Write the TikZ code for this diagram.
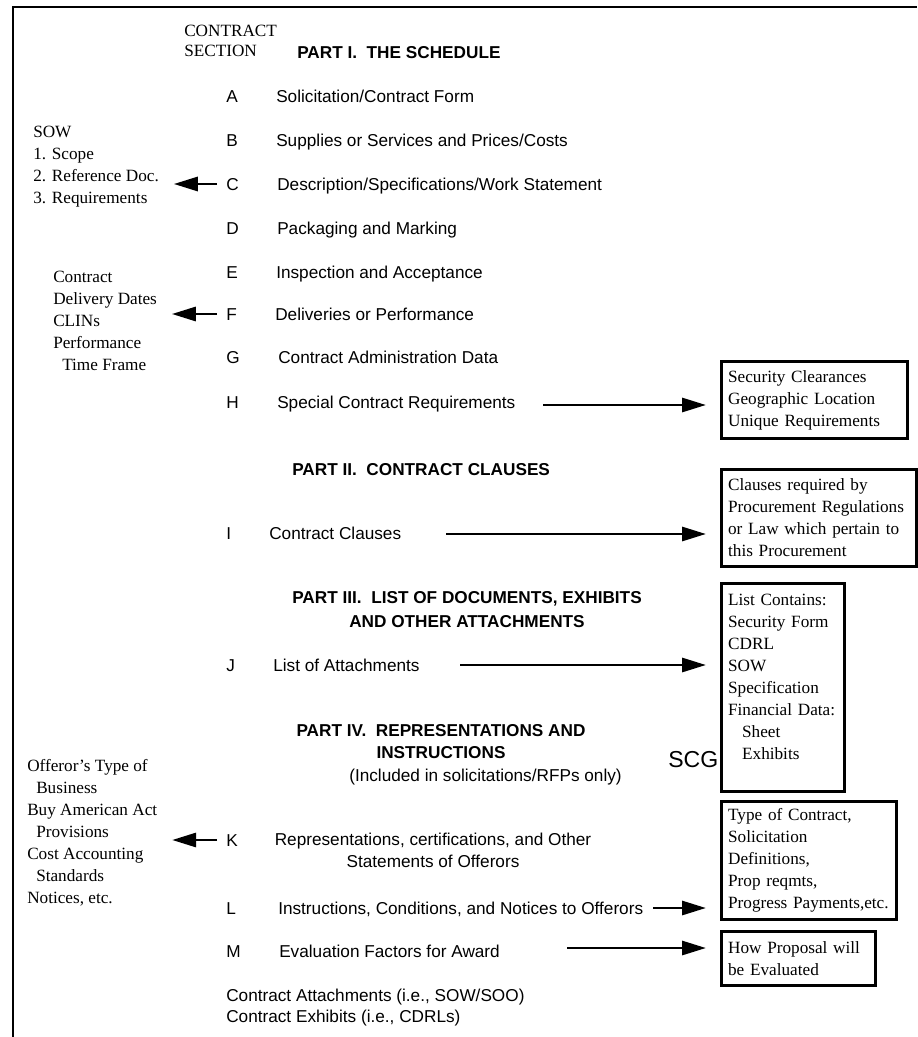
\documentclass[tikz,border=0pt]{standalone}
\usepackage{fontspec}
\setmainfont{Liberation Sans}
\newfontfamily\tnr{Liberation Serif}
\usetikzlibrary{arrows.meta}
\newcommand\txtsize{\fontsize{12.9}{16.5}\selectfont}

\begin{document}
\begin{tikzpicture}[x=0.75pt, y=-0.75pt, font=\txtsize,
Row/.style={anchor=west, inner sep=0pt, text height=9.2pt, text depth=0pt},
Part/.style={font=\fontsize{12.9}{18}\selectfont\bfseries, inner sep=0pt, align=center, anchor=north},
Note/.style={font=\tnr\txtsize, align=left, anchor=north west, inner sep=0pt},
Box/.style={draw, line width=2.2pt, font=\tnr\txtsize, align=left, anchor=north west, inner xsep=5pt, inner ysep=2pt},
BigArrow/.style={line width=2.2pt, -{Triangle[length=18pt, width=10.5pt]}}]
\useasboundingbox (0,0) rectangle (917,1037);
\draw[line width=2pt] (13,1037) -- (13,7) -- (917,7);

% headings
\node[Note, font=\tnr\fontsize{12.9}{15}\selectfont] (head) at (184,25) {CONTRACT\\SECTION};
\node[Row, font=\txtsize\bfseries] (part1) at (297,52) {PART I.\ \ THE SCHEDULE};
\node[Row, font=\txtsize\bfseries] (part2) at (292,469) {PART II.\ \ CONTRACT CLAUSES};
\node[Part] (part3) at (467,591) {PART III.\ \ LIST OF DOCUMENTS, EXHIBITS\\AND OTHER ATTACHMENTS};
\node[Part, font=\fontsize{12.9}{17}\selectfont\bfseries] (part4) at (441,724) {PART IV.\ \ REPRESENTATIONS AND\\INSTRUCTIONS};
\node[Row] (rfp) at (349,775) {(Included in solicitations/RFPs only)};

% contract sections
\foreach \sid/\yy/\xx/\desc in {A/96/276/{Solicitation/Contract Form},
  B/140/276/{Supplies or Services and Prices/Costs},
  C/184/277/{Description/Specifications/Work Statement},
  D/228/277/{Packaging and Marking},
  E/272/276/{Inspection and Acceptance},
  F/314/275/{Deliveries or Performance},
  G/357/278/{Contract Administration Data},
  H/402/277/{Special Contract Requirements},
  I/533/269/{Contract Clauses},
  J/665/273/{List of Attachments},
  L/908/278/{Instructions, Conditions, and Notices to Offerors},
  M/951/279/{Evaluation Factors for Award}} {
  \node[Row] (sec\sid) at (226,\yy) {\sid};
  \node[Row] (desc\sid) at (\xx,\yy) {\desc};
}
\node[Row] (secK) at (226,840) {K};
\node[align=center, anchor=north, inner sep=0pt] (descK) at (433,833) {Representations, certifications, and Other\\Statements of Offerors};
\node[anchor=north west, align=left, inner sep=0pt, font=\fontsize{12.9}{15.75}\selectfont] (attach) at (226,989) {Contract Attachments (i.e., SOW/SOO)\\Contract Exhibits (i.e., CDRLs)};

% notes on the left
\node[Note] (sow) at (33,126) {SOW\\1. Scope\\2. Reference Doc.\\3. Requirements};
\node[Note] (dates) at (53,271) {Contract\\Delivery Dates\\CLINs\\Performance\\\hspace*{6.75pt}Time Frame};
\node[Note] (offeror) at (27,759) {Offeror’s Type of\\\hspace*{6.75pt}Business\\Buy American Act\\\hspace*{6.75pt}Provisions\\Cost Accounting\\\hspace*{6.75pt}Standards\\Notices, etc.};

% boxes on the right
\node[Box, text width=129.5pt, minimum height=57.75pt] (boxH) at (720,360) {Security Clearances\\Geographic Location\\Unique Requirements};
\node[Box, text width=136.25pt, minimum height=72.75pt] (boxI) at (720,468) {Clauses required by\\Procurement~Regulations\\or Law which pertain to\\this Procurement};
\node[Box, text width=82.25pt, minimum height=156pt] (boxJ) at (720,582) {List Contains:\\Security~Form\\CDRL\\SOW\\Specification\\Financial~Data:\\\hspace*{10.5pt}Sheet\\\hspace*{10.5pt}Exhibits\\~};
\node[Box, text width=121.25pt, minimum height=88.5pt] (boxL) at (720,800) {Type of Contract,\\Solicitation\\Definitions,\\Prop reqmts,\\Progress~Payments,etc.};
\node[Box, text width=105.5pt, minimum height=40.5pt] (boxM) at (720,930) {How Proposal will\\be Evaluated};
\node[Row, font=\fontsize{17.3}{20}\selectfont, text height=12.4pt] (scg) at (668,759) {SCG};

% arrows
\coordinate (aH) at (543,405);
\coordinate (aI) at (446,534);
\coordinate (aJ) at (460,665);
\coordinate (aL) at (653,908);
\coordinate (aM) at (567,948);
\foreach \from/\to in {aH/boxH, aI/boxI, aJ/boxJ, aL/boxL, aM/boxM}
  \draw[BigArrow, shorten >=10.5pt] (\from) -- (\from -| \to.west);
\foreach \from/\to in {secC/sow, secF/dates, secK/offeror}
  \draw[BigArrow, shorten <=6.75pt, shorten >=11pt] (\from.west) -- (\from.west -| \to.east);
\end{tikzpicture}
\end{document}
